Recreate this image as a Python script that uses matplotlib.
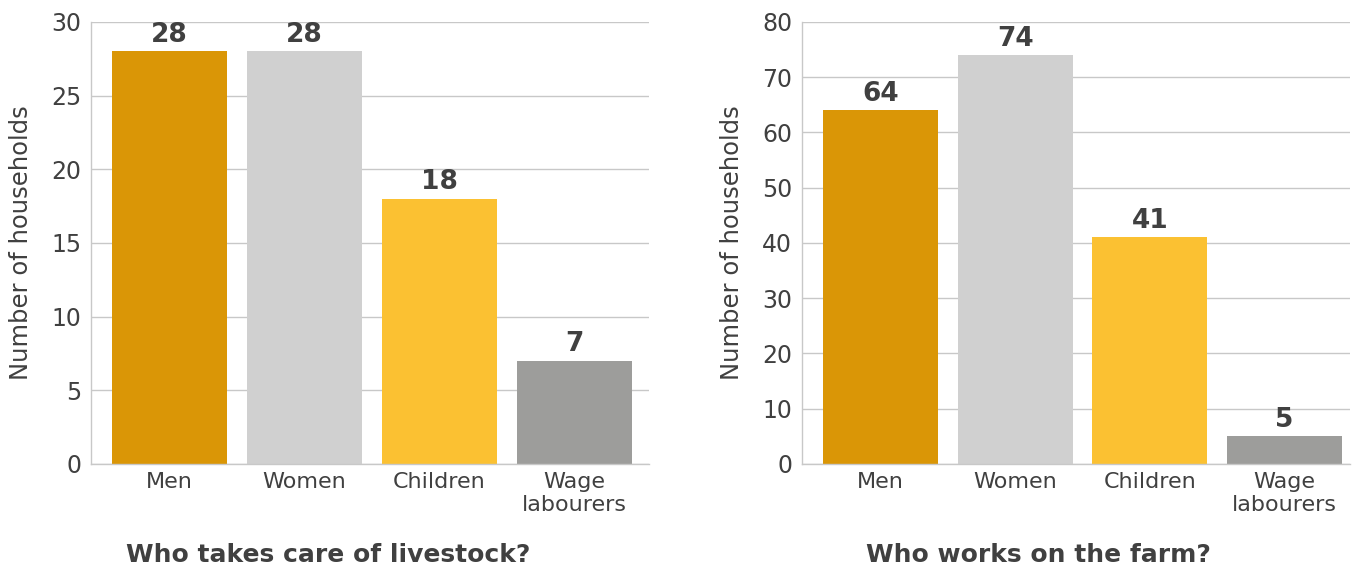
import matplotlib
matplotlib.use("Agg")
import matplotlib.pyplot as plt

# ── Data ──────────────────────────────────────────────────────────────────────
CATEGORIES = ["Men", "Women", "Children", "Wage\nlabourers"]
LIVESTOCK = [28, 28, 18, 7]
FARM = [64, 74, 41, 5]
BAR_COLORS = ["#da9606", "#d0d0d0", "#fbc132", "#9d9d9b"]

TEXT = "#404040"
GRID = "#c8c8c8"

plt.rcParams["font.family"] = ["DejaVu Sans"]

fig = plt.figure(figsize=(13.54, 5.67), dpi=100)

panels = [
    (LIVESTOCK, 30, 5, [0.0672, 0.1817, 0.4120, 0.7795], (-0.584, 3.554),
     "Who takes care of livestock?", 0.2423),
    (FARM, 80, 10, [0.5923, 0.1817, 0.4047, 0.7795], (-0.584, 3.487),
     "Who works on the farm?", 0.7666),
]

for values, ymax, step, rect, xlim, title, tx in panels:
    ax = fig.add_axes(rect)
    x = range(len(CATEGORIES))
    ax.bar(x, values, width=0.855, color=BAR_COLORS, zorder=2)
    for xi, v in zip(x, values):
        ax.text(xi, v + ymax * 0.008, str(v), ha="center", va="bottom",
                fontsize=19, fontweight="bold", color=TEXT)
    ax.set_xlim(*xlim)
    ax.set_ylim(0, ymax)
    ax.set_yticks(range(0, ymax + 1, step))
    ax.set_xticks(list(x))
    ax.set_xticklabels(CATEGORIES, fontsize=16, color=TEXT, linespacing=1.15)
    ax.tick_params(axis="y", labelsize=17, labelcolor=TEXT, length=0, pad=7)
    ax.tick_params(axis="x", length=0, pad=6)
    ax.grid(axis="y", color=GRID, linewidth=1, zorder=0)
    ax.set_axisbelow(True)
    for s in ["top", "right"]:
        ax.spines[s].set_visible(False)
    for s in ["left", "bottom"]:
        ax.spines[s].set_color(GRID)
        ax.spines[s].set_linewidth(1)
    ax.set_ylabel("Number of households", fontsize=17.5, color=TEXT, labelpad=13)
    fig.text(tx, 0.0, title, ha="center", va="bottom", fontsize=18,
             fontweight="bold", color=TEXT)

fig.savefig("out.png", dpi=100)
